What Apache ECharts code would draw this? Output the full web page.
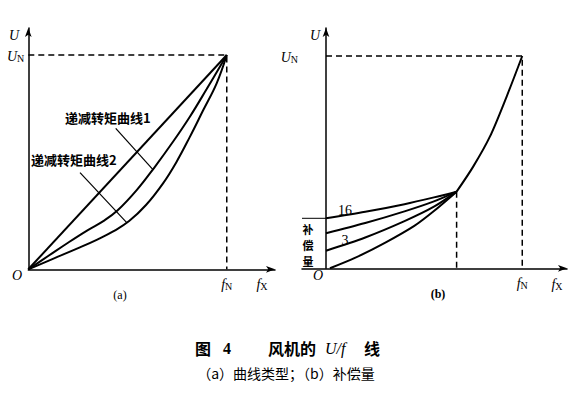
<!DOCTYPE html>
<html><head><meta charset="utf-8">
<script src="https://cdn.jsdelivr.net/npm/echarts@6/dist/echarts.min.js"></script>
<style>html,body{margin:0;padding:0;background:#fff}#c{width:578px;height:395px}</style>
</head><body><div id="c"></div>
<script>
// ---------- data: panel (a) curve types (x = f/fN, y = U/UN) ----------
const aStraight = [[0,0],[1,1]];
const aCurve1 = [[0,0],[0.1,0.062],[0.2,0.124],[0.3,0.183],[0.38,0.226],[0.449,0.274],[0.545,0.368],[0.636,0.476],[0.729,0.595],[0.814,0.712],[0.898,0.84],[1,1]];
const aCurve2 = [[0,0],[0.127,0.05],[0.254,0.1],[0.35,0.14],[0.43,0.178],[0.508,0.225],[0.593,0.3],[0.678,0.4],[0.746,0.5],[0.814,0.618],[0.881,0.742],[0.949,0.868],[1,1]];
const aLeader1 = [[0.4405,0.658],[0.627,0.466]];
const aLeader2 = [[0.2606,0.4508],[0.496,0.2175]];
const aDashed = [[0,1],[1,1],[1,0]];
const aLabels = ['递减转矩曲线1','递减转矩曲线2'];

// ---------- data: panel (b) compensation ----------
const bUpper = [[0.6655,0.361],[0.75,0.479],[0.835,0.62],[0.92,0.808],[1,1]];
const bLine0 = [[0.02,0],[0.15,0.05],[0.3,0.12],[0.45,0.2],[0.55,0.27],[0.6655,0.361]];
const bLine3 = [[0,0.083],[0.2,0.145],[0.4,0.222],[0.55,0.29],[0.6655,0.361]];
const bLineMid = [[0,0.165],[0.2,0.213],[0.4,0.268],[0.55,0.315],[0.6655,0.361]];
const bLine16 = [[0,0.2355],[0.2,0.266],[0.4,0.302],[0.55,0.334],[0.6655,0.361]];
const bStub = [[-0.1223,0.2355],[0,0.2355]];
const bDashed = [[0,1],[1,1],[1,0]];
const bDashedJoin = [[0.6655,0.361],[0.6655,0]];
const bCompLabels = ['16','3'];
const bCompTitle = ['补','偿','量'];

// ---------- tick labels ----------
const xTickValue = [1];
const yTickValue = [1];
const xTickText = '{f|f}{n|N}';
const yTickText = '{f|U}{n|N}';

const captionParts = ['图','4','风机的','U/f','线'];
const captionSub = '（a）曲线类型；（b）补偿量';

const serif = 'Liberation Serif';
const cjk = 'Noto Sans CJK SC';
const richTick = {
  f:{fontFamily:serif,fontStyle:'italic',fontSize:14,color:'#000',verticalAlign:'bottom',lineHeight:16},
  n:{fontFamily:serif,fontSize:10,color:'#000',verticalAlign:'bottom',lineHeight:13,padding:[3,0,0,0]}
};

function mkX(idx,min,max){
  return {type:'value',gridIndex:idx,min:min,max:max,splitLine:{show:false},
    axisTick:{show:false},
    axisLine:{show:true,onZero:true,symbol:['none','arrow'],symbolSize:[5,9],lineStyle:{color:'#000',width:1.5}},
    axisLabel:{customValues:xTickValue,formatter:()=>xTickText,rich:richTick,margin:6}};
}
function mkY(idx,min,max){
  return {type:'value',gridIndex:idx,min:min,max:max,splitLine:{show:false},
    axisTick:{show:false},
    axisLine:{show:true,onZero:true,symbol:['none','arrow'],symbolSize:[5,9],lineStyle:{color:'#000',width:1.5}},
    axisLabel:{customValues:yTickValue,formatter:()=>yTickText,rich:richTick,margin:4}};
}
function line(data,xi,w,extra){
  return Object.assign({type:'line',xAxisIndex:xi,yAxisIndex:xi,data:data,symbol:'none',silent:true,
    lineStyle:{color:'#000',width:w},z:3,animation:false},extra||{});
}
function dashed(data,xi){
  return line(data,xi,1.5,{lineStyle:{color:'#000',width:1.5,type:[6,4]},z:2});
}

const chart = echarts.init(document.getElementById('c'),null,{renderer:'svg'});
const txt = (x,y,text,style)=>({type:'text',x:x,y:y,style:Object.assign({text:text,fill:'#000',align:'center',verticalAlign:'middle'},style)});
const italic = {fontFamily:serif,fontStyle:'italic',fontSize:14};
const compStyle = {fontFamily:cjk,fontSize:11,fontWeight:'bold'};

chart.setOption({
  animation:false,
  backgroundColor:'#fff',
  grid:[
    {left:28.3,top:28,width:246.7,height:241.3},
    {left:302,top:28,width:265,height:240.3}
  ],
  xAxis:[mkX(0,0,1.243),mkX(1,-0.1223,1.228)],
  yAxis:[mkY(0,0,1.126),mkY(1,0,1.132)],
  series:[
    dashed(aDashed,0),
    line(aStraight,0,2),
    line(aCurve1,0,2,{smooth:0.4}),
    line(aCurve2,0,2,{smooth:0.4}),
    line(aLeader1,0,1.2),
    line(aLeader2,0,1.2),
    dashed(bDashed,1),
    dashed(bDashedJoin,1),
    line(bUpper,1,2,{smooth:0.3}),
    line(bLine0,1,2,{smooth:0.3}),
    line(bLine3,1,2,{smooth:0.3}),
    line(bLineMid,1,2,{smooth:0.3}),
    line(bLine16,1,2,{smooth:0.3}),
    line(bStub,1,1)
  ],
  graphic:[
    txt(14,35,'U',italic),
    txt(17,275,'O',italic),
    {type:'text',x:262,y:283,style:{text:'{f|f}{n|X}',rich:richTick,align:'center',verticalAlign:'middle'}},
    txt(120,295,'(a)',{fontFamily:serif,fontSize:12}),
    txt(315,35,'U',italic),
    txt(318,275,'O',italic),
    {type:'text',x:557,y:283,style:{text:'{f|f}{n|X}',rich:richTick,align:'center',verticalAlign:'middle'}},
    txt(438,294,'(b)',{fontFamily:serif,fontSize:12,fontWeight:'bold'}),
    txt(65,117,aLabels[0],{align:'left',fontFamily:cjk,fontSize:13,fontWeight:'bold'}),
    txt(31,159,aLabels[1],{align:'left',fontFamily:cjk,fontSize:13,fontWeight:'bold'}),
    txt(345,210,bCompLabels[0],{fontFamily:serif,fontSize:14}),
    txt(345,240,bCompLabels[1],{fontFamily:serif,fontSize:14}),
    txt(308,229,bCompTitle[0],compStyle),
    txt(308,245,bCompTitle[1],compStyle),
    txt(308,261,bCompTitle[2],compStyle),
    txt(195,348,captionParts[0],{align:'left',fontFamily:cjk,fontSize:16,fontWeight:'bold'}),
    txt(223,348,captionParts[1],{align:'left',fontFamily:serif,fontSize:16,fontWeight:'bold'}),
    txt(268,348,captionParts[2],{align:'left',fontFamily:cjk,fontSize:16,fontWeight:'bold'}),
    txt(325,348,captionParts[3],{align:'left',fontFamily:serif,fontStyle:'italic',fontSize:16}),
    txt(364,348,captionParts[4],{align:'left',fontFamily:cjk,fontSize:16,fontWeight:'bold'}),
    txt(286,373,captionSub,{fontFamily:cjk,fontSize:14})
  ]
});
</script></body></html>
